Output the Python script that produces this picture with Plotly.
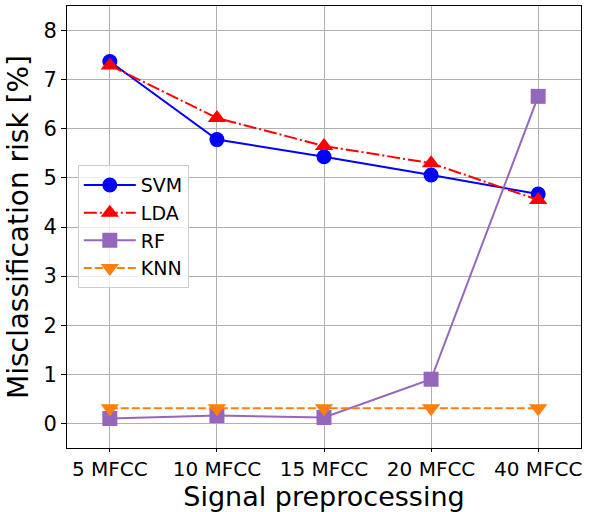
import plotly.graph_objects as go

categories = ["5 MFCC", "10 MFCC", "15 MFCC", "20 MFCC", "40 MFCC"]
svm = [7.37, 5.78, 5.43, 5.06, 4.67]
lda = [7.29, 6.22, 5.65, 5.30, 4.55]
rf = [0.10, 0.16, 0.12, 0.90, 6.66]
knn = [0.31, 0.31, 0.31, 0.31, 0.31]
y_ticks = [0, 1, 2, 3, 4, 5, 6, 7, 8]

xi = list(range(len(categories)))

fig = go.Figure()
fig.add_trace(go.Scatter(x=xi, y=svm, name="SVM", mode="lines+markers",
                         line=dict(color="blue", width=2),
                         marker=dict(symbol="circle", size=15, color="blue")))
fig.add_trace(go.Scatter(x=xi, y=lda, name="LDA", mode="lines+markers",
                         line=dict(color="red", width=2, dash="13px,3px,2px,3px"),
                         marker=dict(symbol="triangle-up", size=16, color="red")))
fig.add_trace(go.Scatter(x=xi, y=rf, name="RF", mode="lines+markers",
                         line=dict(color="#9467bd", width=2),
                         marker=dict(symbol="square", size=15, color="#9467bd")))
fig.add_trace(go.Scatter(x=xi, y=knn, name="KNN", mode="lines+markers",
                         line=dict(color="#ff7f0e", width=2, dash="8px,3px"),
                         marker=dict(symbol="triangle-down", size=16, color="#ff7f0e")))

axis_common = dict(showline=True, linecolor="black", linewidth=1, mirror=True,
                   showgrid=True, gridcolor="#b0b0b0", gridwidth=1,
                   ticks="outside", tickcolor="black", zeroline=False,
                   automargin=False)

fig.update_layout(
    width=593, height=512,
    margin=dict(l=67, r=12, t=6, b=64),
    paper_bgcolor="white", plot_bgcolor="white",
    font=dict(family="DejaVu Sans", color="black"),
    xaxis=dict(axis_common, range=[-0.4, 4.4], tickvals=xi, ticktext=categories,
               ticklen=3, tickfont=dict(size=20),
               title=dict(text="Signal preprocessing", font=dict(size=27), standoff=7)),
    yaxis=dict(axis_common, range=[-0.5, 8.5], tickvals=y_ticks, ticklen=5,
               tickfont=dict(size=21),
               title=dict(text="Misclassification risk [%]", font=dict(size=28), standoff=6)),
    legend=dict(x=0.021, y=0.64, xanchor="left", yanchor="top",
                font=dict(size=19), bgcolor="rgba(255,255,255,0.8)",
                bordercolor="#cccccc", borderwidth=1,
                itemwidth=52, tracegroupgap=0),
    showlegend=True,
)

fig.write_html("out.html", config={"displayModeBar": False},
               post_script="document.body.style.margin='0px';document.body.style.padding='0px';")
